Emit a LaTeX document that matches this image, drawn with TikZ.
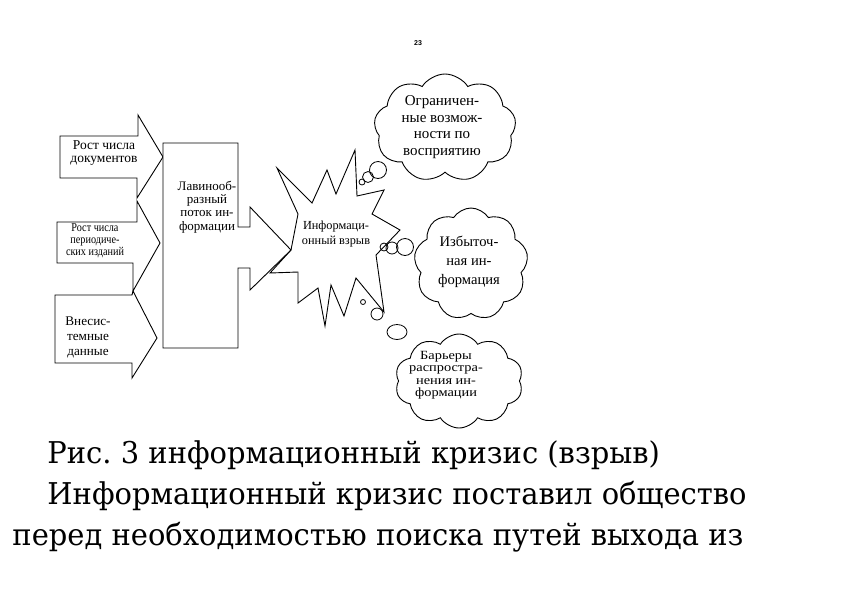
\documentclass[tikz,border=0pt]{standalone}
\usepackage{fontspec}
\setmainfont{Liberation Serif}
\newfontfamily\capfont[FakeStretch=0.965]{DejaVu Serif}
\newfontfamily\numfont{Liberation Sans}
\usetikzlibrary{shapes.symbols,shapes.geometric}
\frenchspacing
\begin{document}
\begin{tikzpicture}[x=1pt,y=-1pt, line width=0.9pt, line join=miter,
  lbl/.style={align=center, inner sep=0pt},
  thought/.style={cloud, cloud puffs=10, cloud puff arc=115, draw, line width=0.9pt, inner sep=0pt},
  bubble/.style={draw, circle, inner sep=0pt, line width=0.8pt},
  caption/.style={anchor=base west, inner sep=0pt, font=\capfont\fontsize{30}{36}\selectfont}]
\useasboundingbox (0,0) rectangle (842,595);

% page number
\node[font=\numfont\bfseries\fontsize{7}{8}\selectfont, inner sep=0pt] (pg) at (418,43) {23};

% left input arrows
\draw[fill=white] (60,136) -- (138,136) -- (138,115) -- (163,157) -- (137,198) -- (137,178) -- (60,178) -- cycle;
\draw[fill=white] (57,222) -- (137,222) -- (137,201) -- (160,243) -- (133,291) -- (133,263) -- (57,263) -- cycle;
\draw[fill=white] (55,295) -- (132,295) -- (133,291) -- (157,338) -- (132,378) -- (132,363) -- (55,363) -- cycle;

\node[lbl, font=\fontsize{13.5}{13}\selectfont] (t1) at (104,153) {Рост числа\\документов};
\node[lbl, font=\fontsize{12}{12}\selectfont\addfontfeatures{FakeStretch=0.85}] (t2) at (95,241) {Рост числа\\периодиче-\\ских изданий};
\node[lbl, font=\fontsize{13.2}{15}\selectfont] (t3) at (88,337) {Внесис-\\темные\\данные};

% central block with arrow
\draw[fill=white] (163,143) -- (238,143) -- (238,227) -- (250,227) -- (250,207) -- (291,250) -- (250,290) -- (250,268) -- (238,268) -- (238,348) -- (163,348) -- cycle;
\node[lbl, font=\fontsize{13}{13.3}\selectfont] (t4) at (207,207) {Лавинооб-\\разный\\поток ин-\\формации};

% star (information explosion)
\draw (277,168) -- (312,203) -- (327,170) -- (336,194) -- (355,150) -- (357,196) -- (384,190)
  -- (372,214) -- (400,230) -- (376,255) -- (384,312) -- (356,278) -- (344,316) -- (331,285)
  -- (325,326) -- (318,288) -- (298,303) -- (298,272) -- (270,273) -- (291,250) -- (298,214) -- cycle;
\node[lbl, font=\fontsize{12.3}{15}\selectfont] (star) at (336,234) {Информаци-\\онный взрыв};

% thought bubbles
\node[thought, cloud puffs=9, minimum width=142pt, minimum height=108pt] (c1) at (445,128) {};
\node[lbl, font=\fontsize{15}{16.5}\selectfont] (c1t) at (442,127) {Ограничен-\\ные возмож-\\ности по\\восприятию};
\node[bubble, minimum size=17pt] (b11) at (378,170) {};
\node[bubble, minimum size=11pt] (b12) at (368,177) {};
\node[bubble, minimum size=6pt] (b13) at (362,182) {};

\node[thought, cloud puffs=9, minimum width=114pt, minimum height=112pt] (c2) at (471,264) {};
\node[lbl, font=\fontsize{14.6}{19}\selectfont] (c2t) at (469,262) {Избыточ-\\ная ин-\\формация};
\node[bubble, minimum size=17pt] (b21) at (405,247) {};
\node[bubble, minimum size=12pt] (b22) at (392,248) {};
\node[bubble, minimum size=8pt] (b23) at (384,247) {};

\node[thought, minimum width=128pt, minimum height=94pt] (c3) at (459,381) {};
\node[lbl, font=\fontsize{12.5}{12.5}\selectfont\addfontfeatures{FakeStretch=1.15}] (c3t) at (446,375) {Барьеры\\распростра-\\нения ин-\\формации};
\node[bubble, minimum size=5pt] (b31) at (363,302) {};
\node[bubble, minimum size=12pt] (b32) at (377,314) {};
\node[bubble, ellipse, minimum width=20pt, minimum height=15pt] (b33) at (397,332) {};

% caption text
\node[caption] (cap1) at (47,463) {Рис. 3 информационный кризис (взрыв)};
\node[caption] (cap2) at (47,504) {Информационный кризис поставил общество};
\node[caption] (cap3) at (12,545) {перед необходимостью поиска путей выхода из};
\end{tikzpicture}
\end{document}
